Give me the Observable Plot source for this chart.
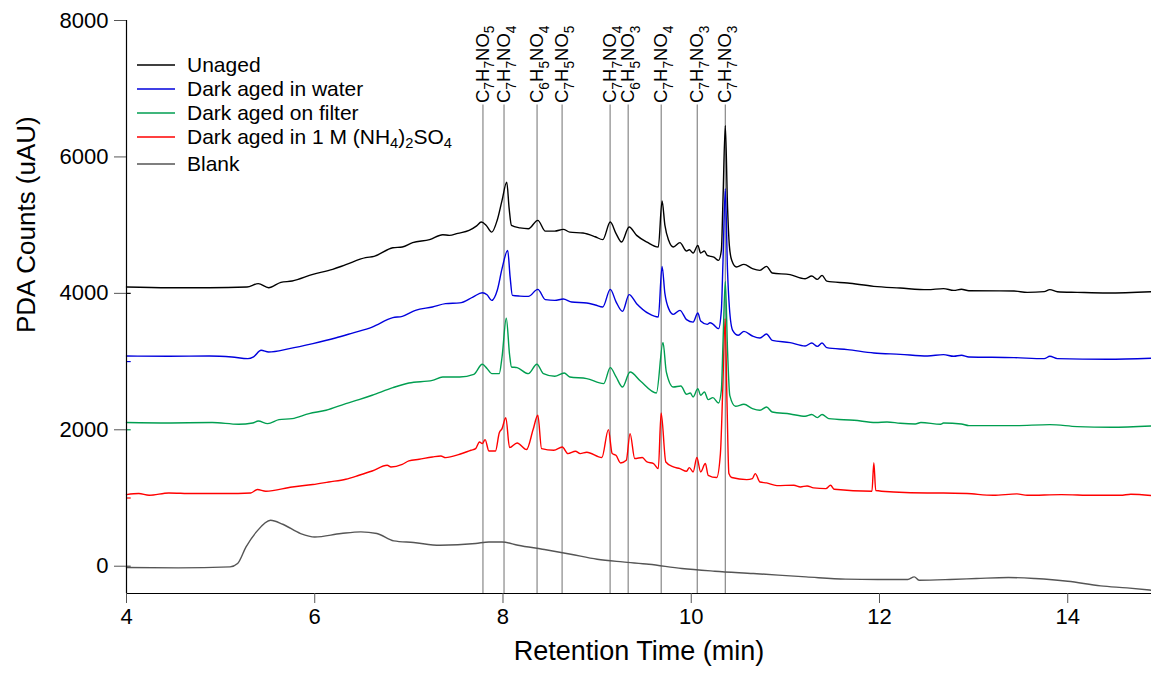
<!DOCTYPE html>
<html>
<head>
<meta charset="utf-8">
<script src="https://cdn.jsdelivr.net/npm/d3@7"></script>
<script src="https://cdn.jsdelivr.net/npm/@observablehq/plot@0.6"></script>
<style>
  html, body { margin: 0; padding: 0; background: #fff; overflow: hidden; }
  #wrap { position: relative; width: 1151px; height: 673px; font-family: "Liberation Sans", Arial, sans-serif; }
  #legend { position: absolute; left: 137px; top: 53px; font-size: 21px; color: #000; }
  #legend .row { display: flex; align-items: center; height: 24px; white-space: nowrap; }
  #legend svg.sw { display: block; margin-right: 12px; }
  #legend sub { font-size: 70%; vertical-align: -0.3em; line-height: 0; }
</style>
</head>
<body>
<div id="wrap"><div id="legend"></div></div>
<script>
// ---- axes ----
const xDomain = [4, 14.89];
const yDomain = [-400, 8000];
const xTicks = [4, 6, 8, 10, 12, 14];
const yTicks = [0, 2000, 4000, 6000, 8000];
const xTitle = "Retention Time (min)";
const yTitle = "PDA Counts (uAU)";

// ---- series ----
const seriesNames = ["Unaged", "Dark aged in water", "Dark aged on filter", "Dark aged in 1 M (NH₄)₂SO₄", "Blank"];
const seriesColors = ["#000000", "#0000dd", "#009e50", "#ff0000", "#555555"];
const seriesOffsets = [4000, 3000, 2000, 1000, 0];

const unaged = [[4.00,4093],[4.45,4083],[4.88,4083],[5.28,4093],[5.40,4142],[5.51,4083],[5.64,4161],[5.76,4181],[5.98,4278],[6.19,4352],[6.33,4420],[6.54,4523],[6.63,4542],[6.83,4669],[6.93,4680],[7.04,4743],[7.22,4787],[7.36,4860],[7.43,4850],[7.52,4880],[7.64,4923],[7.72,4990],[7.77,5045],[7.82,5000],[7.88,4898],[7.94,5080],[7.99,5363],[8.04,5631],[8.065,5250],[8.09,4996],[8.18,4960],[8.27,4948],[8.37,5070],[8.45,4913],[8.55,4913],[8.64,4938],[8.71,4898],[8.85,4884],[8.98,4830],[9.06,4787],[9.14,5045],[9.20,4880],[9.26,4752],[9.34,4972],[9.42,4850],[9.53,4752],[9.65,4679],[9.69,5353],[9.72,5000],[9.76,4777],[9.81,4679],[9.88,4743],[9.95,4620],[9.98,4640],[10.02,4591],[10.07,4703],[10.10,4591],[10.14,4620],[10.17,4557],[10.21,4542],[10.24,4530],[10.29,4484],[10.32,4630],[10.337,5360],[10.362,6461],[10.385,5300],[10.405,4700],[10.43,4484],[10.48,4386],[10.56,4425],[10.65,4362],[10.73,4337],[10.80,4396],[10.86,4298],[11.05,4274],[11.21,4215],[11.28,4254],[11.34,4205],[11.39,4264],[11.44,4180],[11.66,4151],[11.94,4103],[12.22,4078],[12.51,4054],[12.68,4070],[12.79,4044],[12.87,4060],[12.95,4039],[13.43,4034],[13.57,4015],[13.75,4025],[13.81,4054],[13.89,4024],[14.10,4015],[14.42,4005],[14.89,4024]];

const darkWater = [[4.00,3082],[4.45,3077],[4.88,3082],[5.12,3067],[5.29,3043],[5.35,3070],[5.43,3165],[5.51,3140],[5.73,3189],[5.98,3263],[6.22,3345],[6.40,3418],[6.61,3506],[6.83,3644],[6.93,3663],[7.07,3751],[7.25,3800],[7.39,3849],[7.54,3860],[7.68,3946],[7.78,4010],[7.83,3980],[7.88,3897],[7.94,4050],[7.99,4362],[8.05,4630],[8.075,4250],[8.10,3971],[8.18,3960],[8.27,3956],[8.37,4059],[8.45,3908],[8.55,3897],[8.64,3917],[8.73,3873],[8.89,3858],[8.98,3830],[9.06,3800],[9.14,4059],[9.20,3880],[9.27,3736],[9.34,3981],[9.42,3849],[9.55,3702],[9.65,3653],[9.69,4396],[9.72,4000],[9.76,3776],[9.81,3692],[9.88,3751],[9.95,3615],[10.02,3579],[10.07,3712],[10.10,3595],[10.17,3546],[10.20,3570],[10.23,3550],[10.29,3483],[10.32,3751],[10.337,4450],[10.362,5534],[10.385,4350],[10.405,3800],[10.44,3458],[10.50,3385],[10.56,3443],[10.65,3375],[10.73,3345],[10.80,3404],[10.86,3311],[11.05,3277],[11.21,3228],[11.28,3272],[11.34,3223],[11.39,3272],[11.44,3204],[11.66,3175],[11.94,3126],[12.22,3106],[12.51,3082],[12.68,3102],[12.79,3077],[12.87,3092],[12.95,3067],[13.43,3058],[13.75,3043],[13.81,3077],[13.89,3043],[14.42,3033],[14.89,3048]];

const darkFilter = [[4.00,2106],[4.45,2100],[4.91,2106],[5.19,2081],[5.34,2100],[5.40,2129],[5.50,2090],[5.62,2149],[5.76,2164],[5.94,2237],[6.12,2286],[6.33,2384],[6.47,2442],[6.61,2506],[6.83,2618],[7.00,2686],[7.25,2725],[7.36,2774],[7.54,2774],[7.69,2813],[7.78,2960],[7.83,2900],[7.88,2823],[7.96,2823],[7.99,3067],[8.035,3636],[8.07,3100],[8.09,2921],[8.15,2911],[8.27,2823],[8.36,2960],[8.43,2823],[8.55,2784],[8.65,2832],[8.71,2774],[8.89,2750],[9.07,2677],[9.14,2911],[9.20,2780],[9.27,2627],[9.35,2847],[9.46,2715],[9.63,2539],[9.70,3280],[9.735,2850],[9.81,2627],[9.89,2642],[9.95,2520],[9.99,2539],[10.02,2481],[10.07,2604],[10.10,2506],[10.14,2554],[10.18,2442],[10.23,2472],[10.29,2393],[10.32,2579],[10.338,3300],[10.362,4175],[10.386,3150],[10.41,2500],[10.47,2344],[10.56,2374],[10.65,2311],[10.73,2286],[10.80,2334],[10.86,2260],[11.05,2232],[11.21,2198],[11.28,2223],[11.34,2179],[11.39,2223],[11.46,2164],[11.73,2139],[11.96,2106],[12.08,2115],[12.22,2095],[12.38,2085],[12.44,2106],[12.65,2081],[12.68,2100],[12.87,2085],[12.95,2061],[13.43,2061],[13.81,2076],[14.10,2047],[14.46,2037],[14.89,2056]];

const darkSulfate = [[4.00,1050],[4.13,1065],[4.24,1040],[4.45,1074],[4.70,1065],[5.05,1065],[5.32,1074],[5.39,1124],[5.48,1099],[5.76,1162],[5.98,1197],[6.15,1235],[6.33,1275],[6.47,1333],[6.61,1396],[6.77,1480],[6.81,1455],[6.93,1494],[7.00,1543],[7.11,1568],[7.25,1601],[7.34,1616],[7.39,1592],[7.54,1641],[7.66,1700],[7.71,1724],[7.75,1821],[7.78,1797],[7.81,1856],[7.85,1690],[7.92,1688],[7.96,1953],[7.99,2017],[8.03,2179],[8.07,1739],[8.15,1807],[8.25,1710],[8.32,2003],[8.37,2212],[8.41,1724],[8.54,1700],[8.63,1748],[8.69,1651],[8.77,1685],[8.82,1651],[8.89,1670],[9.05,1593],[9.12,2003],[9.16,1651],[9.20,1626],[9.25,1514],[9.31,1553],[9.35,1944],[9.40,1578],[9.48,1593],[9.53,1528],[9.60,1505],[9.65,1431],[9.68,2246],[9.73,1528],[9.81,1455],[9.88,1431],[9.95,1392],[9.98,1446],[10.02,1382],[10.06,1593],[10.10,1382],[10.15,1505],[10.18,1333],[10.27,1300],[10.31,1651],[10.335,2600],[10.36,3630],[10.38,2400],[10.40,1358],[10.43,1300],[10.59,1270],[10.65,1285],[10.68,1358],[10.73,1235],[10.80,1221],[10.91,1182],[11.09,1187],[11.16,1162],[11.23,1177],[11.30,1148],[11.43,1138],[11.48,1187],[11.52,1128],[11.92,1100],[11.94,1519],[11.96,1110],[12.15,1089],[12.51,1074],[12.68,1074],[12.93,1065],[13.21,1040],[13.46,1060],[13.57,1040],[13.93,1050],[14.28,1040],[14.56,1040],[14.67,1055],[14.89,1036]];

const blank = [[4.00,-19],[4.55,-24],[5.10,-10],[5.18,39],[5.27,283],[5.38,503],[5.53,674],[5.66,615],[5.85,479],[6.00,429],[6.28,479],[6.49,503],[6.66,479],[6.84,371],[7.05,347],[7.33,308],[7.71,333],[7.85,356],[7.99,356],[8.16,308],[8.44,245],[8.72,176],[9.00,103],[9.27,63],[9.55,29],[9.90,-34],[10.25,-73],[10.66,-107],[11.22,-156],[11.64,-190],[11.98,-195],[12.30,-195],[12.37,-156],[12.42,-205],[12.75,-195],[13.03,-181],[13.37,-166],[13.65,-181],[14.00,-220],[14.35,-288],[14.63,-318],[14.89,-352]];

// ---- peak annotations ----
const peakTimes = [7.787, 8.011, 8.362, 8.628, 9.138, 9.330, 9.681, 10.064, 10.362];
const peakLabels = ["C₇H₇NO₅","C₇H₇NO₄","C₆H₅NO₄","C₇H₅NO₅","C₇H₇NO₄","C₆H₅NO₃","C₇H₇NO₄","C₇H₇NO₃","C₇H₇NO₃"];
const labelBase = 6760;

const seriesData = [unaged, darkWater, darkFilter, darkSulfate, blank];
const peaks = peakTimes.map((t, i) => ({t, label: peakLabels[i]}));
const offsets = seriesOffsets.map((v, i) => ({v, c: seriesColors[i]}));

const drawOrder = [4, 3, 2, 1, 0];
const labelFont = 18.5;

const chart = Plot.plot({
  width: 1151,
  height: 673,
  marginLeft: 126,
  marginRight: 0,
  marginTop: 20,
  marginBottom: 80,
  style: {fontFamily: "'Liberation Sans', Arial, sans-serif", background: "#fff", color: "#000"},
  x: {domain: xDomain},
  y: {domain: yDomain},
  marks: [
    Plot.ruleX(peaks, {x: "t", y1: labelBase, y2: yDomain[0], stroke: "#888", strokeWidth: 1.2}),
    ...drawOrder.map(i => Plot.line(seriesData[i], {x: d => d[0], y: d => d[1], stroke: seriesColors[i], strokeWidth: 1.4, curve: "monotone-x"})),
    Plot.text(peaks, {x: "t", y: labelBase, text: "label", rotate: -90, textAnchor: "start", lineAnchor: "middle", fontSize: labelFont, dy: -2, fill: "#000"}),
    Plot.ruleY(offsets, {y: "v", x1: xDomain[0], x2: xDomain[0] + 0.05, stroke: d => d.c, strokeWidth: 1.2}),
    Plot.ruleX([xDomain[0]], {stroke: "#000", strokeWidth: 1.2}),
    Plot.ruleY([yDomain[0]], {stroke: "#000", strokeWidth: 1.2}),
    Plot.axisY({ticks: yTicks, tickSize: 12, tickPadding: 6, fontSize: 22, tickFormat: d3.format("d"), label: null, stroke: "#555", color: "#000"}),
    Plot.axisX({ticks: xTicks, tickSize: 10, tickPadding: 5, fontSize: 22, tickFormat: d3.format("d"), label: null, stroke: "#555", color: "#000"}),
    Plot.text([xTitle], {frameAnchor: "bottom", dy: 66, fontSize: 27, fill: "#000"}),
    Plot.text([yTitle], {frameAnchor: "left", rotate: -90, dx: -100, dy: 26, fontSize: 26, fill: "#000"})
  ]
});

// turn unicode subscript digits into real lowered tspans
function subscriptify(svg, base) {
  const subRe = /[\u2080-\u2089]/;
  svg.querySelectorAll("text").forEach(t => {
    if (t.querySelector("tspan")) return;
    const s = t.textContent;
    if (!subRe.test(s)) return;
    while (t.firstChild) t.removeChild(t.firstChild);
    const runs = s.match(/[\u2080-\u2089]+|[^\u2080-\u2089]+/g);
    const shift = base * 0.3;
    let shifted = false;
    runs.forEach(r => {
      const ts = document.createElementNS("http://www.w3.org/2000/svg", "tspan");
      if (subRe.test(r[0])) {
        ts.textContent = r.replace(/[\u2080-\u2089]/g, c => String.fromCharCode(c.charCodeAt(0) - 0x2080 + 48));
        ts.setAttribute("font-size", base * 0.75);
        ts.setAttribute("dy", shift);
        shifted = true;
      } else {
        ts.textContent = r;
        if (shifted) { ts.setAttribute("dy", -shift); shifted = false; }
      }
      t.appendChild(ts);
    });
  });
}
subscriptify(chart, labelFont);

const wrap = document.getElementById("wrap");
wrap.insertBefore(chart, wrap.firstChild);

// legend (HTML overlay)
const NS = "http://www.w3.org/2000/svg";
const legend = document.getElementById("legend");
seriesNames.forEach((name, i) => {
  const row = document.createElement("div");
  row.className = "row";
  if (i === seriesNames.length - 1) row.style.marginTop = "3px";
  const sw = document.createElementNS(NS, "svg");
  sw.setAttribute("class", "sw");
  sw.setAttribute("width", 38);
  sw.setAttribute("height", 6);
  const ln = document.createElementNS(NS, "line");
  ln.setAttribute("x1", 0); ln.setAttribute("x2", 38);
  ln.setAttribute("y1", 3); ln.setAttribute("y2", 3);
  ln.setAttribute("stroke", seriesColors[i]);
  ln.setAttribute("stroke-width", 1.5);
  sw.appendChild(ln);
  const label = document.createElement("span");
  label.innerHTML = name.replace(/[\u2080-\u2089]+/g, m => "<sub>" + m.replace(/./g, c => String.fromCharCode(c.charCodeAt(0) - 0x2080 + 48)) + "</sub>");
  row.appendChild(sw);
  row.appendChild(label);
  legend.appendChild(row);
});
</script>
</body>
</html>
